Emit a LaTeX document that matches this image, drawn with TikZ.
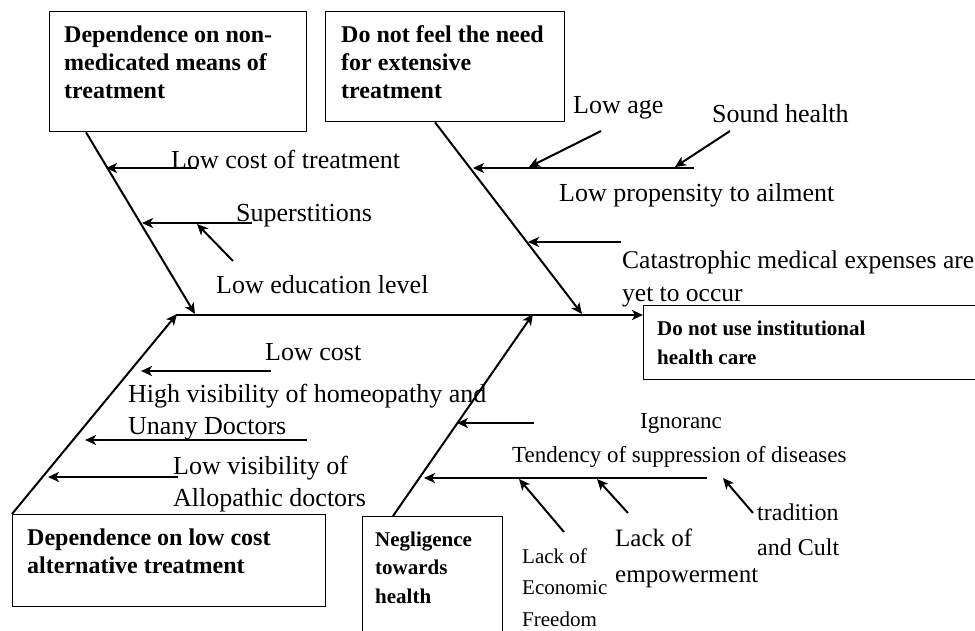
\documentclass[tikz,border=0pt]{standalone}
\usepackage{fontspec}
\setmainfont{Liberation Serif}
\usetikzlibrary{arrows.meta,calc}
\begin{document}
\begin{tikzpicture}[x=1pt,y=-1pt,
  conn/.style={line width=2pt,-{Stealth[length=11pt,width=10pt,inset=3pt]}},
  boxframe/.style={draw,line width=1.3pt,inner sep=0,anchor=north west},
  boxtxt/.style={font=\bfseries\fontsize{24}{28}\selectfont,inner sep=0,anchor=base west,align=left},
  smallboxtxt/.style={font=\bfseries\fontsize{21}{28.5}\selectfont,inner sep=0,anchor=base west,align=left},
  lbl/.style={font=\fontsize{26}{32}\selectfont,inner sep=0,anchor=base west,align=left}]
\useasboundingbox (0,0) rectangle (975,630);

% boxes
\node[boxframe,minimum width=257pt,minimum height=120pt] (b1) at (49,11) {};
\node[boxframe,minimum width=239pt,minimum height=110pt] (b2) at (325,11) {};
\node[boxframe,minimum width=345pt,minimum height=74pt] (b3) at (643,305) {};
\node[boxframe,minimum width=313pt,minimum height=92pt] (b4) at (12,514) {};
\node[boxframe,minimum width=140pt,minimum height=130pt] (b5) at (362,516) {};

% (base anchor of a multi-line node = baseline of its last line)
\node[boxtxt] (t1) at (64,98) {Dependence on non-\\medicated means of\\treatment};
\node[boxtxt] (t2) at (341,98) {Do not feel the need\\for extensive\\treatment};
\node[smallboxtxt] (t3) at (657,364) {Do not use institutional\\health care};
\node[boxtxt] (t4) at (27,573) {Dependence on low cost\\alternative treatment};
\node[smallboxtxt] (t5) at (375,603) {Negligence\\towards\\health};

% spine and bones
\coordinate (sp0) at (176,315);
\draw[conn] (sp0) -- (sp0 -| b3.west);
\coordinate (tlS) at ($(b1.south west)+(37,0)$);
\coordinate (tlE) at (195,314);
\coordinate (trS) at ($(b2.south west)+(110,0)$);
\coordinate (trE) at (582,314);
\coordinate (blS) at (b4.north west);
\coordinate (blE) at (177,314);
\coordinate (brS) at ($(b5.north west)+(31,0)$);
\coordinate (brE) at (533,314);
\draw[conn] (tlS) -- (tlE);
\draw[conn] (trS) -- (trE);
\draw[conn] (blS) -- (blE);
\draw[conn] (brS) -- (brE);

% cause arrows
\coordinate (a1) at (197,168); \coordinate (a2) at (106,168);
\coordinate (b1s) at (252,223); \coordinate (b1e) at (142,223);
\coordinate (c1) at (233,261); \coordinate (c2) at (197,224);
\coordinate (d1) at (694,168); \coordinate (d2) at (473,168);
\coordinate (e1) at (601,131); \coordinate (e2) at (529,167);
\coordinate (f1) at (730,131); \coordinate (f2) at (675,167);
\coordinate (g1) at (621,242); \coordinate (g2) at (528,242);
\coordinate (h1) at (271,371); \coordinate (h2) at (141,371);
\coordinate (i1) at (307,440); \coordinate (i2) at (85,440);
\coordinate (j1) at (178,477); \coordinate (j2) at (48,477);
\coordinate (k1) at (534,423); \coordinate (k2) at (457,423);
\coordinate (l1) at (707,478); \coordinate (l2) at (424,478);
\coordinate (m1) at (564,532); \coordinate (m2) at (519,479);
\coordinate (n1) at (628,513); \coordinate (n2) at (597,479);
\coordinate (o1) at (753,513); \coordinate (o2) at (723,478);
\foreach \p/\q in {a1/a2,b1s/b1e,c1/c2,d1/d2,e1/e2,f1/f2,g1/g2,h1/h2,i1/i2,j1/j2,k1/k2,l1/l2,m1/m2,n1/n2,o1/o2}
  \draw[conn] (\p) -- (\q);

% labels
\node[lbl] (L1) at (171,168) {Low cost of treatment};
\node[lbl] (L2) at (236,221) {Superstitions};
\node[lbl] (L3) at (216,293) {Low education level};
\node[lbl] (L4) at (573,113) {Low age};
\node[lbl] (L5) at (712,122) {Sound health};
\node[lbl] (L6) at (559,201) {Low propensity to ailment};
\node[lbl,font=\fontsize{25.5}{33}\selectfont] (L7) at (622,301) {Catastrophic medical expenses are\\yet to occur};
\node[lbl] (L8) at (265,360) {Low cost};
\node[lbl] (L9) at (128,434) {High visibility of homeopathy and\\Unany Doctors};
\node[lbl] (L10) at (173,506) {Low visibility of\\Allopathic doctors};
\node[lbl,font=\fontsize{23}{28}\selectfont] (L11) at (640,428) {Ignoranc};
\node[lbl,font=\fontsize{23}{28}\selectfont] (L12) at (512,462) {Tendency of suppression of diseases};
\node[lbl,font=\fontsize{21}{31.5}\selectfont] (L13) at (522,626) {Lack of\\Economic\\Freedom};
\node[lbl,font=\fontsize{25}{36}\selectfont] (L14) at (615,582) {Lack of\\empowerment};
\node[lbl,font=\fontsize{24}{35}\selectfont] (L15) at (757,555) {tradition\\and Cult};
\end{tikzpicture}
\end{document}
